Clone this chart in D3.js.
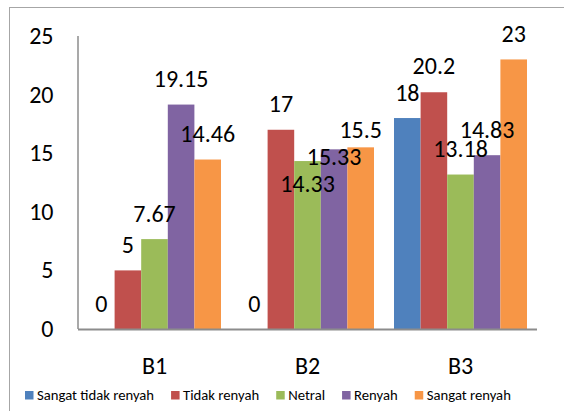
<!DOCTYPE html>
<html>
<head>
<meta charset="utf-8">
<script src="https://cdn.jsdelivr.net/npm/d3@7"></script>
<style>
  body { margin: 0; background: #fff; }
  svg { display: block; font-family: Carlito, Calibri, "Liberation Sans", Arial, sans-serif; }
</style>
</head>
<body>
<div id="chart"></div>
<script>
// categories and series
const categories = ["B1", "B2", "B3"];
const seriesNames = ["Sangat tidak renyah", "Tidak renyah", "Netral", "Renyah", "Sangat renyah"];
const seriesColors = ["#4F81BD", "#C0504D", "#9BBB59", "#8064A2", "#F79646"];
// values[category][series]
const values = [
    [0, 5, 7.67, 19.15, 14.46],
    [0, 17, 14.33, 15.33, 15.5],
    [18, 20.2, 13.18, 14.83, 23]
];
const yTicks = [0, 5, 10, 15, 20, 25];
// manual vertical nudges of a few data labels (as in the original)
const labelShift = [
    [0, 0, 0, 0, 0],
    [0, 0, 48, 33, 8],
    [0, -1, 0, 0, 0]
];

const width = 564;
const height = 411;
const plot = {left: 78, right: 537, top: 36, bottom: 329};

const svg = d3.select("#chart")
    .append("svg")
    .attr("width", width)
    .attr("height", height);

// outer frame
svg.append("rect")
    .attr("x", 9.5)
    .attr("y", 7.5)
    .attr("width", 600)
    .attr("height", 500)
    .attr("fill", "none")
    .attr("stroke", "#a6a6a6")
    .attr("stroke-width", 1);

const y = d3.scaleLinear()
    .domain([0, 25])
    .range([plot.bottom, plot.top]);

const x = d3.scaleBand()
    .domain(categories)
    .range([plot.left, plot.right])
    .paddingInner(20 / 153)
    .paddingOuter(10 / 153);

const xs = d3.scaleBand()
    .domain(d3.range(seriesNames.length))
    .range([0, x.bandwidth()]);

// y axis labels
svg.append("g")
    .selectAll("text")
    .data(yTicks)
    .join("text")
    .attr("x", 53.5)
    .attr("y", d => y(d))
    .attr("dy", "0.33em")
    .attr("text-anchor", "end")
    .style("font-size", "24px")
    .style("fill", "#000")
    .text(d => d);

// bars
const groups = svg.append("g")
    .selectAll("g")
    .data(values)
    .join("g")
    .attr("transform", (d, i) => `translate(${x(categories[i])},0)`);

groups.selectAll("rect")
    .data(d => d)
    .join("rect")
    .attr("x", (d, j) => xs(j))
    .attr("width", xs.bandwidth())
    .attr("y", d => y(d))
    .attr("height", d => y(0) - y(d))
    .attr("fill", (d, j) => seriesColors[j]);

// data labels
groups.each(function(row, i) {
    d3.select(this).selectAll("text")
        .data(row)
        .join("text")
        .attr("x", (d, j) => xs(j) + xs.bandwidth() / 2)
        .attr("y", (d, j) => y(d) - 17.5 + labelShift[i][j])
        .attr("text-anchor", "middle")
        .style("font-size", "24px")
        .style("fill", "#000")
        .text(d => d);
});

// axis lines
svg.append("line")
    .attr("x1", plot.left).attr("x2", plot.left)
    .attr("y1", plot.top).attr("y2", plot.bottom)
    .attr("stroke", "#8c8c8c")
    .attr("stroke-width", 1.5);

svg.append("line")
    .attr("x1", plot.left).attr("x2", plot.right)
    .attr("y1", plot.bottom + 0.5).attr("y2", plot.bottom + 0.5)
    .attr("stroke", "#8c8c8c")
    .attr("stroke-width", 2);

// category labels
svg.append("g")
    .selectAll("text")
    .data(categories)
    .join("text")
    .attr("x", d => x(d) + x.bandwidth() / 2)
    .attr("y", 374)
    .attr("text-anchor", "middle")
    .style("font-size", "24px")
    .style("fill", "#000")
    .text(d => d);

// legend
const legend = svg.append("g");
let lx = 25;
seriesNames.forEach((name, j) => {
    legend.append("rect")
        .attr("x", lx)
        .attr("y", 391)
        .attr("width", 8.5)
        .attr("height", 8.5)
        .attr("fill", seriesColors[j]);
    const t = legend.append("text")
        .attr("x", lx + 12)
        .attr("y", 400)
        .style("font-size", "14.7px")
        .style("fill", "#000")
        .text(name);
    lx += 12 + t.node().getComputedTextLength() + 17;
});
</script>
</body>
</html>
